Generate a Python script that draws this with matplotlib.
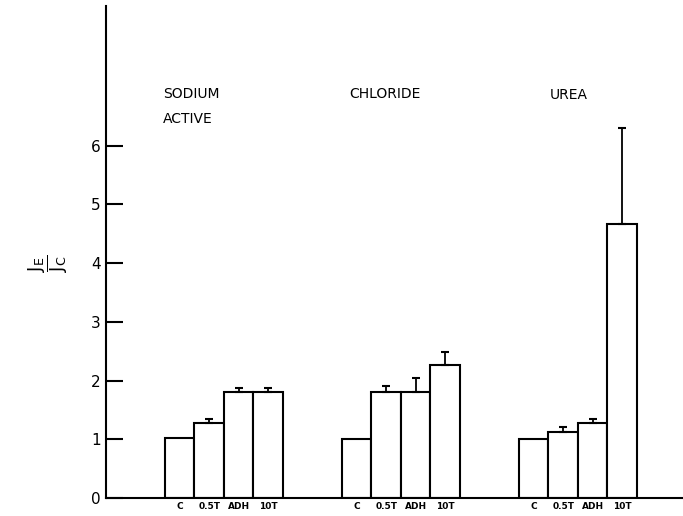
import matplotlib

matplotlib.use("Agg")
import matplotlib.pyplot as plt
import numpy as np

# J_E / J_C ratios
groups = ["SODIUM\nACTIVE", "CHLORIDE", "UREA"]
treatments = ["C", "0.5T", "ADH", "10T"]

sodium = [1.03, 1.27, 1.80, 1.80]
sodium_err = [0.0, 0.07, 0.08, 0.08]

chloride = [1.00, 1.80, 1.80, 2.27]
chloride_err = [0.0, 0.10, 0.25, 0.22]

urea = [1.01, 1.13, 1.28, 4.67]
urea_err = [0.0, 0.08, 0.07, 1.64]

yticks = [0, 1, 2, 3, 4, 5, 6]

plt.rcParams["font.family"] = ["DejaVu Sans"]

fig = plt.figure(figsize=(6.83, 5.16), dpi=100)
ax = fig.add_axes([106 / 683, 18 / 516, 577 / 683, 492 / 516])

gap = 6
xs = []
labels = []
for g, (vals, errs) in enumerate(
    [(sodium, sodium_err), (chloride, chloride_err), (urea, urea_err)]
):
    pos = g * gap + np.arange(len(treatments))
    ax.bar(pos, vals, width=1.0, color="white", edgecolor="black", linewidth=1.5, zorder=2)
    e = np.array(errs)
    lower = np.zeros_like(e)
    has = e > 0
    ax.errorbar(
        pos[has], np.array(vals)[has], yerr=[lower[has], e[has]],
        fmt="none", ecolor="black", elinewidth=1.3, capsize=3, capthick=1.5, zorder=3,
    )
    xs.extend(pos)
    labels.extend(treatments)

# group titles
ax.text(-0.57, 6.88, "SODIUM", fontsize=10, va="center", ha="left")
ax.text(-0.57, 6.46, "ACTIVE", fontsize=10, va="center", ha="left")
ax.text(5.74, 6.88, "CHLORIDE", fontsize=10, va="center", ha="left")
ax.text(12.55, 6.86, "UREA", fontsize=10, va="center", ha="left")

ax.set_xlim(-2.5, 17.06)
ax.set_ylim(0, 8.38)
ax.set_xticks(xs)
ax.set_xticklabels(labels, fontsize=6.5, fontweight="bold")
ax.tick_params(axis="x", length=0, pad=3)
ax.set_yticks(yticks)
ax.set_yticklabels([str(t) for t in yticks], fontsize=11)
ax.tick_params(axis="y", direction="in", length=12, width=1.5, pad=4)

ax.spines["top"].set_visible(False)
ax.spines["right"].set_visible(False)
ax.spines["left"].set_linewidth(1.5)
ax.spines["bottom"].set_linewidth(1.5)

ax.set_ylabel(r"$\dfrac{\mathrm{J}_{\mathrm{E}}}{\mathrm{J}_{\mathrm{C}}}$", fontsize=13, rotation=90)
ax.yaxis.set_label_coords(-0.062, 0.478)

fig.savefig("out.png", dpi=100)
